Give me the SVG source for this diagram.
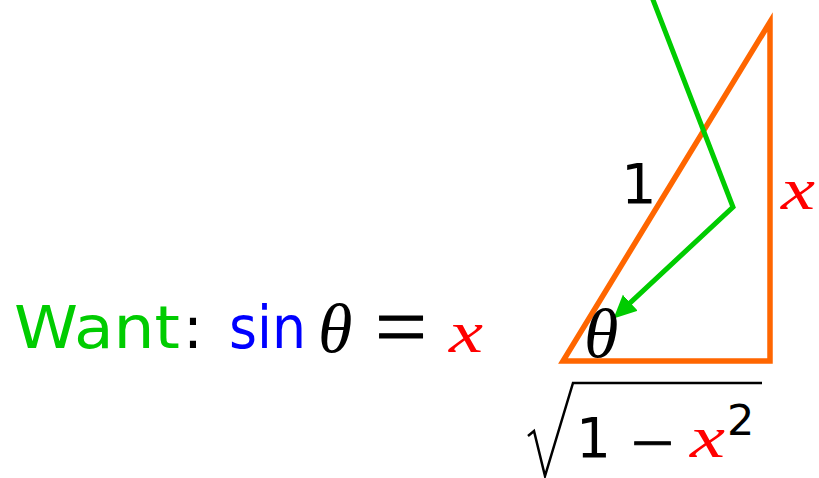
<svg xmlns="http://www.w3.org/2000/svg" width="819" height="478" viewBox="0 0 819 478">
<style>
.sans{font-family:"DejaVu Sans",sans-serif}
.mi{font-family:"Liberation Serif",serif;font-style:italic}
.rm{font-family:"Liberation Serif",serif;stroke:#000;stroke-width:1}
.green{fill:#00cc00}
.blue{fill:#0000ff}
.red{fill:#ff0000}
.blk{fill:#000}
</style>
<defs>
<marker id="arr" markerUnits="userSpaceOnUse" markerWidth="24" markerHeight="24" refX="10" refY="10" orient="auto" viewBox="0 0 22 20">
<path d="M0,0 L21,10 L0,20 Z" fill="#00cc00"/>
</marker>
</defs>
<g id="triangle">
<polygon points="563,361 770,361 770,22" fill="none" stroke="#ff6600" stroke-width="5.5" stroke-linejoin="miter"/>
</g>
<g id="connectors">
<polyline points="650,-8 733,207 622.3,310.2" fill="none" stroke="#00cc00" stroke-width="5" marker-end="url(#arr)"/>
</g>
<g id="want">
<text x="14" y="348" class="sans green" font-size="59" textLength="166" lengthAdjust="spacingAndGlyphs">Want</text>
<text x="183" y="348" class="sans blk" font-size="59">:</text>
<text x="229" y="348" class="sans blue" font-size="59" textLength="77" lengthAdjust="spacingAndGlyphs">sin</text>
<text x="318" y="352" class="mi blk" font-size="70">θ</text>
<text x="375" y="356" class="rm blk" font-size="86" textLength="52" lengthAdjust="spacingAndGlyphs">=</text>
<text x="449" y="352" class="mi red" font-size="60" textLength="34" lengthAdjust="spacingAndGlyphs">x</text>
</g>
<g id="label-1">
<text x="621" y="203" class="sans blk" font-size="56">1</text>
</g>
<g id="label-x">
<text x="781" y="209" class="mi red" font-size="60" textLength="34" lengthAdjust="spacingAndGlyphs">x</text>
</g>
<g id="label-theta">
<text x="584" y="357" class="mi blk" font-size="70">θ</text>
</g>
<g id="label-sqrt">
<path d="M528,436 L534,431 L545,476 L573,383 L762,383" fill="none" stroke="#000" stroke-width="2.5" stroke-linejoin="miter"/>
<text x="576" y="457" class="sans blk" font-size="55">1</text>
<text x="631" y="463" class="rm blk" font-size="60" stroke-width="1.4" textLength="43" lengthAdjust="spacingAndGlyphs">−</text>
<text x="690" y="457" class="mi red" font-size="60" textLength="35" lengthAdjust="spacingAndGlyphs">x</text>
<text x="727" y="435" class="sans blk" font-size="43">2</text>
</g>
</svg>
